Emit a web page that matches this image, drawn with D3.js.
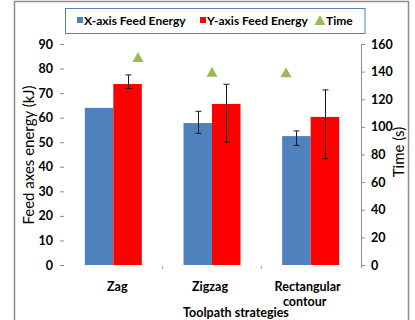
<!DOCTYPE html>
<html><head><meta charset="utf-8">
<script src="https://cdn.jsdelivr.net/npm/d3@7"></script>
<style>body{margin:0;background:#fff}svg{display:block}text{font-family:Lato,"Open Sans",sans-serif}</style>
</head><body><svg id="c" width="415" height="320"></svg>
<script>
const categories = ["Zag", "Zigzag", "Rectangular contour"];
const xFeedEnergy = [64, 57.8, 52.5];
const yFeedEnergy = [73.7, 65.6, 60.3];
const xErrLow = [null, 53.6, 48.7];
const xErrHigh = [null, 62.6, 54.6];
const yErrLow = [71.9, 50.0, 43.3];
const yErrHigh = [77.4, 73.6, 71.3];
const timeValues = [150.5, 140, 139.5];
const leftTicks = [0, 10, 20, 30, 40, 50, 60, 70, 80, 90];
const rightTicks = [0, 20, 40, 60, 80, 100, 120, 140, 160];
const seriesNames = ["X-axis Feed Energy", "Y-axis Feed Energy", "Time"];

const BLUE = "#4F81BD", RED = "#FF0000", GREEN = "#9BBB59";
const svg = d3.select("#c");
const L = 64, R = 360, T = 44, B = 265;

svg.append("rect").attr("x", 14.5).attr("y", 1.5).attr("width", 394).attr("height", 330)
  .attr("fill", "none").attr("stroke", "#8c8c8c").attr("stroke-width", 1.5);

const x = d3.scaleBand().domain(categories).range([L, R]).paddingInner(0).paddingOuter(0);
const xTime = d3.scaleLinear().domain([-1, 3]).range([L, R]);
const yL = d3.scaleLinear().domain([0, 90]).range([B, T]);
const yR = d3.scaleLinear().domain([0, 160]).range([B, T]);
const barW = 28.5;

// left axis
const gl = svg.append("g").attr("transform", `translate(${L},0)`)
  .call(d3.axisLeft(yL).tickValues(leftTicks).tickSize(4).tickPadding(7));
gl.select(".domain").remove();
gl.selectAll(".tick line").attr("stroke", "#8c8c8c").attr("x1", -4).attr("x2", 0);
gl.selectAll(".tick text").attr("font-size", 12.5).attr("font-weight", "bold").attr("fill", "#000");

// right axis
const gr = svg.append("g").attr("transform", `translate(${R + 1},0)`)
  .call(d3.axisRight(yR).tickValues(rightTicks).tickSize(4).tickPadding(6));
gr.select(".domain").attr("stroke", "#8c8c8c").attr("d", `M0.5,${T}V${B + 3}`);
gr.selectAll(".tick line").attr("stroke", "#8c8c8c");
gr.selectAll(".tick text").attr("font-size", 12.5).attr("font-weight", "bold").attr("fill", "#000");

// x axis category ticks (between bands)
const boundaries = categories.slice(1).map(c => x(c));
svg.selectAll(".xt").data(boundaries).enter().append("line")
  .attr("x1", d => d).attr("x2", d => d).attr("y1", B + 1).attr("y2", B + 4)
  .attr("stroke", "#a0a0a0");

// bars
svg.selectAll(".bx").data(categories).enter().append("rect")
  .attr("x", c => x(c) + x.bandwidth() / 2 - barW).attr("width", barW)
  .attr("y", (c, i) => yL(xFeedEnergy[i])).attr("height", (c, i) => B - yL(xFeedEnergy[i]))
  .attr("fill", BLUE);
svg.selectAll(".by").data(categories).enter().append("rect")
  .attr("x", c => x(c) + x.bandwidth() / 2).attr("width", barW)
  .attr("y", (c, i) => yL(yFeedEnergy[i])).attr("height", (c, i) => B - yL(yFeedEnergy[i]))
  .attr("fill", RED);

// error bars
function errBars(low, high, offset) {
  categories.forEach((c, i) => {
    if (low[i] == null) return;
    const cx = Math.round(x(c) + x.bandwidth() / 2 + offset) + 0.5;
    const g = svg.append("g").attr("stroke", "#1a1a1a").attr("stroke-width", 1);
    g.append("line").attr("x1", cx).attr("x2", cx).attr("y1", yL(low[i])).attr("y2", yL(high[i]));
    g.append("line").attr("x1", cx - 3).attr("x2", cx + 3).attr("y1", yL(low[i])).attr("y2", yL(low[i]));
    g.append("line").attr("x1", cx - 3).attr("x2", cx + 3).attr("y1", yL(high[i])).attr("y2", yL(high[i]));
  });
}
errBars(xErrLow, xErrHigh, -barW / 2);
errBars(yErrLow, yErrHigh, barW / 2);

// time triangles
const tri = (cx, cy) => `M${cx},${cy - 5}L${cx + 5.5},${cy + 5}L${cx - 5.5},${cy + 5}Z`;
svg.selectAll(".tm").data(timeValues).enter().append("path")
  .attr("d", (v, i) => tri(xTime(i), yR(v))).attr("fill", GREEN);

// category labels
const catG = svg.append("g").attr("font-size", 12.5).attr("font-weight", "bold").attr("text-anchor", "middle");
catG.append("text").attr("x", x("Zag") + x.bandwidth() / 2 + 4).attr("y", 291).text("Zag");
catG.append("text").attr("x", x("Zigzag") + x.bandwidth() / 2 - 2).attr("y", 291).text("Zigzag");
const rc = catG.append("text").attr("x", x("Rectangular contour") + x.bandwidth() / 2 - 3).attr("y", 291);
rc.append("tspan").text("Rectangular");
rc.append("tspan").attr("x", x("Rectangular contour") + x.bandwidth() / 2 - 6).attr("dy", 15).text("contour");

// axis titles
svg.append("text").attr("x", 236).attr("y", 317).attr("text-anchor", "middle")
  .attr("font-size", 12.5).attr("font-weight", "bold").text("Toolpath strategies");
svg.append("text").attr("transform", "translate(34,155) rotate(-90)").attr("text-anchor", "middle")
  .attr("font-size", 15).text("Feed axes energy (kJ)");
svg.append("text").attr("transform", "translate(404,152) rotate(-90)").attr("text-anchor", "middle")
  .attr("font-size", 15).text("Time (s)");

// legend
svg.append("rect").attr("x", 65.5).attr("y", 8.5).attr("width", 299.5).attr("height", 25)
  .attr("fill", "#fff").attr("stroke", "#4F81BD").attr("stroke-width", 1);
const lg = svg.append("g").attr("font-size", 12).attr("font-weight", "bold");
const legendX = [77, 200, 317];
[BLUE, RED].forEach((col, i) => {
  lg.append("rect").attr("x", legendX[i]).attr("y", 17).attr("width", 6).attr("height", 6).attr("fill", col);
});
lg.append("path").attr("d", tri(legendX[2] + 3, 20)).attr("fill", GREEN);
seriesNames.forEach((n, i) => {
  lg.append("text").attr("x", legendX[i] + 7 + (i === 2 ? 2 : 0)).attr("y", 24.5).text(n);
});
</script></body></html>
